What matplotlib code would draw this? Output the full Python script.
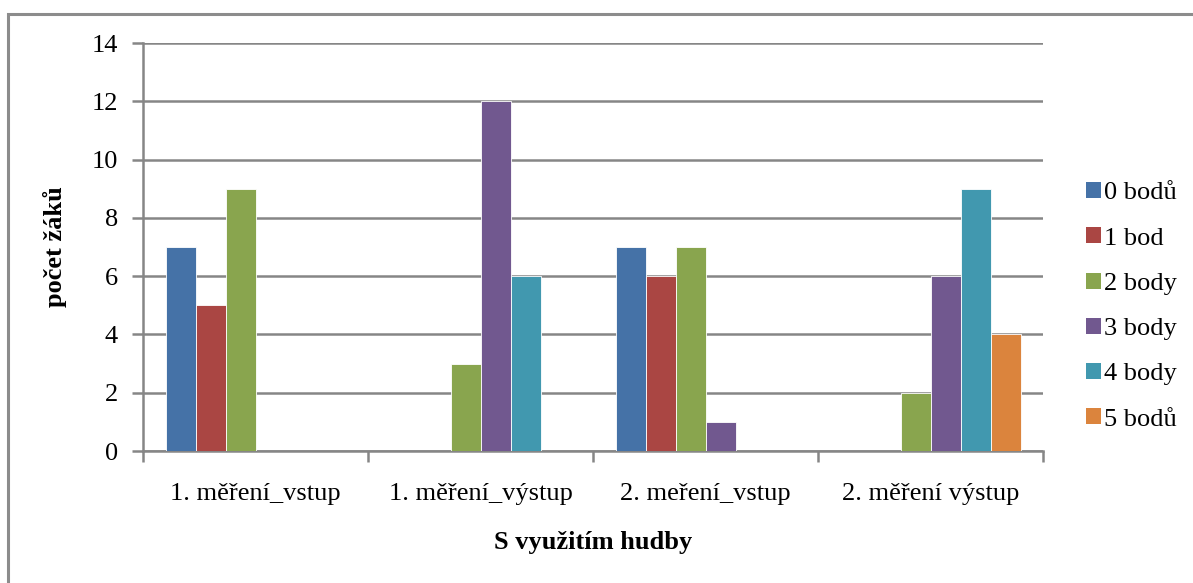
import matplotlib
matplotlib.use("Agg")
import matplotlib.pyplot as plt
from matplotlib.patches import Rectangle, Patch

# data
categories = ["1. měření_vstup", "1. měření_výstup", "2. meření_vstup", "2. měření výstup"]
series = ["0 bodů", "1 bod", "2 body", "3 body", "4 body", "5 bodů"]
body0 = [7, 0, 7, 0]
body1 = [5, 0, 6, 0]
body2 = [9, 3, 7, 2]
body3 = [0, 12, 1, 6]
body4 = [0, 6, 0, 9]
body5 = [0, 0, 0, 4]
values = [body0, body1, body2, body3, body4, body5]
colors = ["#4572A7", "#AA4643", "#89A54E", "#71588F", "#4198AF", "#DB843D"]

plt.rcParams['font.family'] = ['Liberation Serif', 'DejaVu Serif']
W, H = 1193, 583
FS = 19
fig = plt.figure(figsize=(W / 100, H / 100), dpi=100)

# chart frame (only top and left edges visible)
fig.patches.append(Rectangle((8 / W, -0.2), 1.5, 1.2 - 14 / H, transform=fig.transFigure,
                             fill=False, edgecolor="#8c8c8c", linewidth=2.2))

ax = fig.add_axes([143 / W, 1 - 451 / H, 900 / W, 408 / H])

bw = 30 / 225
start = 22.5 / 225
for i, vals in enumerate(values):
    for g, v in enumerate(vals):
        if v > 0:
            ax.bar(g + start + bw * (i + 0.5), v, width=bw, color=colors[i],
                   edgecolor="white", linewidth=0.6, zorder=3)

ax.set_xlim(0, 4)
ax.set_ylim(0, 14)
ax.set_yticks(range(0, 15, 2))
ax.yaxis.grid(True, color="#868686", linewidth=1.8, zorder=0)
ax.set_xticks(range(0, 5))
ax.set_xticklabels([])
ax.set_xticks([g + 0.5 for g in range(4)], minor=True)
ax.set_xticklabels(categories, minor=True, fontsize=FS)
ax.tick_params(axis="x", which="minor", length=0, pad=23)
ax.tick_params(axis="x", which="major", length=8, width=1.8, color="#868686")
ax.tick_params(axis="y", length=8, width=1.8, color="#868686", labelsize=FS, pad=10)
for s in ["top", "right"]:
    ax.spines[s].set_visible(False)
for s in ["left", "bottom"]:
    ax.spines[s].set_color("#868686")
    ax.spines[s].set_linewidth(1.8)

fig.text(593 / W, 1 - 543 / H, "S využitím hudby", ha="center", va="center",
         fontsize=FS, fontweight="bold")
fig.text(55 / W, 1 - 247 / H, "počet žáků", ha="center", va="center",
         rotation=90, fontsize=FS, fontweight="bold")

handles = [Patch(facecolor=c, edgecolor="none") for c in colors]
fig.legend(handles, series, loc="upper left", bbox_to_anchor=(1073 / W, 1 - 169 / H),
           frameon=False, fontsize=FS, handlelength=0.55, handleheight=0.55,
           handletextpad=0.12, labelspacing=0.87, borderpad=0)

fig.savefig("out.png", dpi=100)
